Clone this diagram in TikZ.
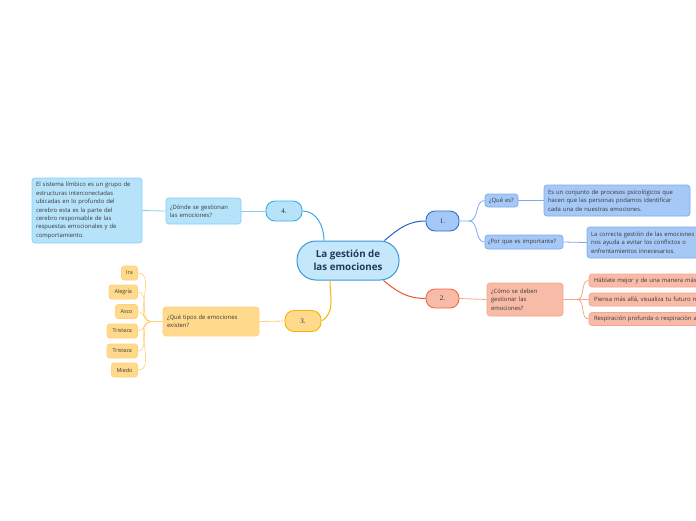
\documentclass[tikz,border=0pt]{standalone}
\usepackage{fontspec}
\setmainfont{Open Sans}
\newfontfamily\numfont{Liberation Serif}
\definecolor{cenf}{HTML}{C5E7FA}
\definecolor{cend}{HTML}{3C96DC}
\definecolor{centx}{HTML}{26385A}
\definecolor{bf}{HTML}{A6C8F6}
\definecolor{bd}{HTML}{2F6FD6}
\definecolor{bl}{HTML}{7EAAEE}
\definecolor{bc}{HTML}{1E62D0}
\definecolor{of}{HTML}{F8BBA8}
\definecolor{od}{HTML}{F26A45}
\definecolor{ol}{HTML}{F7A68C}
\definecolor{oc}{HTML}{F0562A}
\definecolor{yf}{HTML}{FFDA8C}
\definecolor{yd}{HTML}{F7B500}
\definecolor{yl}{HTML}{FFD27A}
\definecolor{lf}{HTML}{B6E3FA}
\definecolor{ld}{HTML}{3AAEE8}
\definecolor{ll}{HTML}{86CFF4}
\definecolor{txt}{HTML}{3A3A3A}
\definecolor{numtx}{HTML}{1F3328}
\begin{document}
\begin{tikzpicture}[x=1pt,y=-1pt,
  mainc/.style={draw=cend,fill=cenf,rounded corners=19pt,minimum width=102pt,minimum height=39pt,line width=1pt,font=\bfseries\fontsize{9.8}{13}\selectfont,align=center,text=centx,inner sep=0pt},
  num/.style={rounded corners=9pt,line width=0.9pt,font=\numfont\fontsize{7}{8}\selectfont,text=numtx,inner sep=0pt},
  box/.style={rounded corners=3pt,line width=0.7pt,inner xsep=4pt,inner ysep=0pt,align=left,font=\fontsize{5.9}{8.4}\selectfont,text=txt},
  leaf/.style={draw=yl,fill=yf,rounded corners=2.5pt,line width=0.6pt,inner sep=0pt,minimum height=14pt,font=\fontsize{5.4}{6}\selectfont,text=txt},
  conn/.style={line width=1pt},
  thin/.style={line width=0.8pt}]
\useasboundingbox[fill=white] (0,0) rectangle (696,520);

% central
\node[mainc] (c) at (348,260.5) {La gestión de\\las emociones};

% main topics
\node[num,draw=bd,fill=bf,minimum width=33pt,minimum height=20pt] (n1) at (442.5,221) {1.};
\node[num,draw=od,fill=of,minimum width=33pt,minimum height=19pt] (n2) at (442.5,298.5) {2.};
\node[num,draw=yd,fill=yf,minimum width=36pt,minimum height=21pt] (n3) at (303,321) {3.};
\node[num,draw=ld,fill=lf,minimum width=36pt,minimum height=20pt] (n4) at (284,211) {4.};

% branch 1
\node[box,draw=bl,fill=bf,text width=25pt,minimum height=13pt] (q1) at (501.5,200.5) {¿Qué es?};
\node[box,draw=bl,fill=bf,text width=138pt,minimum height=31pt] (a1) at (617,200.5) {Es un conjunto de procesos psicológicos que\\hacen que las personas podamos identificar\\cada una de nuestras emociones.};
\node[box,draw=bl,fill=bf,inner xsep=3pt,text width=72pt,minimum height=14pt] (q2) at (524,242) {¿Por que es importante?};
\node[box,draw=bl,fill=bf,text width=108pt,minimum height=31pt] (a2) at (645,242.5) {La correcta gestión de las emociones\\nos ayuda a evitar los conflictos o\\enfrentamientos innecesarios.};

% branch 2
\node[box,draw=ol,fill=of,text width=68pt,minimum height=33pt] (q3) at (525,299.5) {¿Cómo se deben\\gestionar las\\emociones?};
\node[box,draw=ol,fill=of,inner xsep=5pt,text width=120pt,minimum height=13pt] (b1) at (654,280.5) {Háblate mejor y de una manera más};
\node[box,draw=ol,fill=of,inner xsep=5pt,text width=120pt,minimum height=13pt] (b2) at (654,299.5) {Piensa más allá, visualiza tu futuro m};
\node[box,draw=ol,fill=of,inner xsep=5pt,text width=120pt,minimum height=13pt] (b3) at (654,319) {Respiración profunda o respiración a};

% branch 4
\node[box,draw=ll,fill=lf,text width=67pt,minimum height=26pt] (q4) at (203.5,211) {¿Dónde se gestionan\\las emociones?};
\node[box,draw=ll,fill=lf,text width=102pt,minimum height=65pt] (a4) at (87,210.5) {El sistema límbico es un grupo de\\estructuras interconectadas\\ubicadas en lo profundo del\\cerebro esta es la parte del\\cerebro responsable de las\\respuestas emocionales y de\\comportamiento.};

% branch 3
\node[box,draw=yl,fill=yf,text width=88pt,minimum height=29pt] (q5) at (211,321.5) {¿Qué tipos de emociones\\existen?};
\node[leaf,minimum width=16pt] (e1) at (129.5,273) {Ira};
\node[leaf,minimum width=28.5pt] (e2) at (123.25,292) {Alegría};
\node[leaf,minimum width=22pt] (e3) at (126.5,311.5) {Asco};
\node[leaf,minimum width=30.5pt] (e4) at (122.25,331) {Tristeza};
\node[leaf,minimum width=30.5pt] (e5) at (122.25,351) {Tristeza};
\node[leaf,minimum width=26pt] (e6) at (124.5,370) {Miedo};

% connectors from centre
\draw[conn,bc] ([xshift=-15pt]c.north east) to[out=40,in=180] (n1.west);
\draw[conn,oc] ([xshift=-16pt]c.south east) to[out=-40,in=180] (n2.west);
\draw[conn,yd] ([xshift=-18pt]c.south) to[out=-90,in=30] (n3.east);
\draw[conn,ld] ([xshift=-24pt]c.north) to[out=90,in=0] (n4.east);

% branch 1 connectors
\coordinate (f1) at (469,221);
\draw[thin,bl] (n1.east) -- (f1) to[out=0,in=180] (q1.west);
\draw[thin,bl] (f1) to[out=0,in=180] (q2.west);
\draw[thin,bl] (q1.east) -- (a1.west);
\draw[thin,bl] (q2.east) -- (a2.west);

% branch 2 connectors
\coordinate (f2) at (577,299.5);
\draw[thin,ol] (n2.east) -- (q3.west);
\draw[thin,ol] (q3.east) -- (f2) to[out=0,in=180] (b1.west);
\draw[thin,ol] (f2) -- (b2.west);
\draw[thin,ol] (f2) to[out=0,in=180] (b3.west);

% branch 4 connectors
\draw[thin,ll] (n4.west) -- (q4.east);
\draw[thin,ll] (q4.west) -- (a4.east);

% branch 3 connectors
\coordinate (f3) at (151,321.5);
\draw[thin,yl] (n3.west) -- (q5.east);
\draw[thin,yl] (q5.west) -- (f3);
\foreach \e in {e1,e2,e3,e4,e5,e6}
  \draw[line width=0.6pt,yl] (f3) to[out=180,in=0] (\e.east);
\end{tikzpicture}
\end{document}
